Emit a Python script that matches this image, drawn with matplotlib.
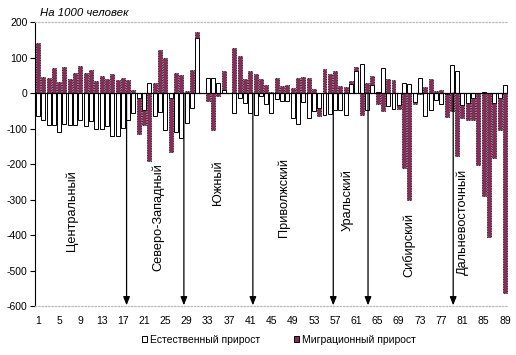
import matplotlib
matplotlib.use('Agg')
import matplotlib.pyplot as plt
import numpy as np
from matplotlib.patches import Patch

plt.rcParams['font.family'] = ['Liberation Sans', 'DejaVu Sans']
plt.rcParams['axes.unicode_minus'] = False

# values per 1000 people, regions 1..89
natural = [-66, -77, -91, -91, -110, -88, -91, -89, -77, -94,
           -79, -101, -100, -94, -120, -120, -99, -75, -57, -14,
           -47, 28, -65, -53, -104, -14, -111, -127, -85, -42,
           155, 0, 42, 42, 28, 8, 0, -56, -15, -29,
           -56, -62, -8, -31, -56, -17, -23, -23, -70, -87,
           -25, -70, -51, -42, -62, -59, -48, -48, -63, 26,
           61, 83, -49, 23, 3, 70, -38, -45, -33, 28,
           25, -26, 42, -66, -49, -21, -32, -2, 80, 61,
           -33, -28, -14, 0, 4, 0, -28, -14, 23]
migration = [141, 45, 42, 70, 31, 73, 39, 56, 77, 56,
             65, 33, 48, 39, 54, 37, 42, 37, 9, -102,
             -42, -192, 28, 122, 99, -152, 56, 52, 7, 66,
             18, 0, -23, -105, -9, 54, 0, 127, 105, 39,
             63, 54, 39, 23, 3, 42, 19, 23, 14, 42,
             45, 42, 11, -23, 68, 54, 63, 20, 17, 9,
             13, -61, 29, 25, -32, -52, 39, 36, -12, -211,
             -300, -5, -3, 17, 39, 7, 8, -66, -52, -178,
             -38, -49, -63, -204, -291, -406, -155, -91, -562]

districts = ['Центральный', 'Северо-Западный', 'Южный', 'Приволжский',
             'Уральский', 'Сибирский', 'Дальневосточный']
district_x = [7.4, 23.6, 34.9, 47.4, 59.4, 70.9, 81.1]
district_y = [-330, -350, -253, -293, -301, -428, -363]
arrow_x = [17.7, 28.5, 41.5, 56.65, 63.2, 79.25]

series_names = ['Естественный прирост', 'Миграционный прирост']
plum = '#8a2a5a'

nat = np.array(natural)
mig = np.array(migration)
idx = np.arange(1, len(nat) + 1)
# stacked: migration sits on natural when signs agree
mig_bottom = np.where(np.sign(nat) == np.sign(mig), nat, 0)

fig = plt.figure(figsize=(5.16, 3.55), dpi=100)
ax = fig.add_axes([0.0684, 0.138, 0.9153, 0.800])

ax.bar(idx, nat, width=0.75, color='white', edgecolor='black', linewidth=0.7, zorder=2)
ax.bar(idx, mig, bottom=mig_bottom, width=0.75, color=plum, edgecolor='black',
       linewidth=0.6, linestyle=(0, (1, 1)), zorder=2)

ax.axhline(0, color='black', linewidth=0.9, zorder=3)

for x in arrow_x:
    ax.annotate('', xy=(x, -598), xytext=(x, 0),
                arrowprops=dict(arrowstyle='-|>,head_length=0.5,head_width=0.2',
                                color='black', lw=0.9, shrinkA=0, shrinkB=0),
                zorder=4)

for name, x, y in zip(districts, district_x, district_y):
    ax.text(x, y, name, rotation=90, ha='center', va='center', fontsize=9.2)

ax.set_xlim(0.5, len(nat) + 0.5)
ax.set_ylim(-600, 200)
ax.set_yticks(np.arange(-600, 201, 100))
ax.set_xticks(np.arange(1, 90, 4))
ax.tick_params(axis='x', length=0, labelsize=7.5, pad=7)
ax.tick_params(axis='y', length=3.5, width=0.8, labelsize=7.5, pad=2)

ax.spines['right'].set_visible(False)
for s in ['top', 'bottom']:
    ax.spines[s].set_color('#bbbbbb')
    ax.spines[s].set_linestyle(':')
    ax.spines[s].set_linewidth(0.9)
ax.spines['left'].set_linewidth(0.8)

fig.text(0.078, 0.963, 'На 1000 человек', fontsize=8.2, style='italic', ha='left', va='center')

handles = [Patch(facecolor='white', edgecolor='black', linewidth=0.7),
           Patch(facecolor=plum, edgecolor='black', linewidth=0.7)]
fig.legend(handles, series_names, loc='center', bbox_to_anchor=(0.541, 0.042),
           ncol=2, frameon=False, fontsize=7.5, handlelength=0.5, handleheight=0.5,
           handletextpad=0.3, columnspacing=3.2)

fig.savefig('out.png', dpi=100)
